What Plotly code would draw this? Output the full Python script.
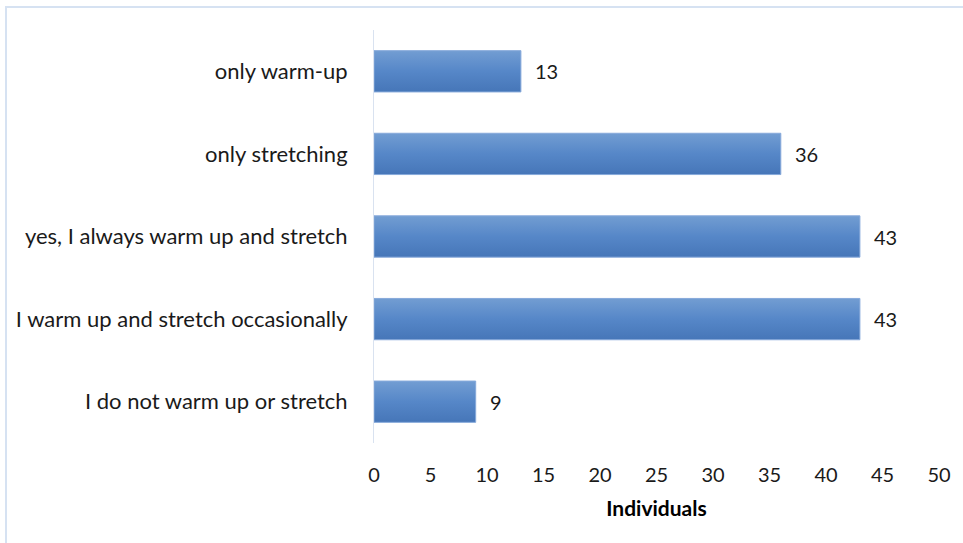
import plotly.graph_objects as go

# Survey responses (bottom to top on the chart)
categories = [
    "I do not warm up or stretch",
    "I warm up and stretch occasionally",
    "yes, I always warm up and stretch",
    "only stretching",
    "only warm-up",
]
counts = [9, 43, 43, 36, 13]
x_ticks = [0, 5, 10, 15, 20, 25, 30, 35, 40, 45, 50]

FONT = "Lato"
TEXT_COLOR = "#1a1a1a"
BAR_TOP = "#729dd2"
BAR_BOTTOM = "#4676b8"
BAR_EDGE = "#86a9da"
HALF = 0.25  # half bar thickness in category units

fig = go.Figure()

# Each bar as a filled rectangle with a vertical gradient
for i, (cat, v) in enumerate(zip(categories, counts)):
    fig.add_trace(go.Scatter(
        x=[0, v, v, 0, 0],
        y=[i - HALF, i - HALF, i + HALF, i + HALF, i - HALF],
        mode="lines",
        fill="toself",
        fillgradient=dict(
            type="vertical",
            colorscale=[[0, BAR_BOTTOM], [0.5, "#5687c8"], [1, BAR_TOP]],
            start=i - HALF,
            stop=i + HALF,
        ),
        line=dict(color=BAR_EDGE, width=1),
        hoverinfo="text",
        hovertext=f"{cat}: {v}",
        showlegend=False,
    ))

# Value labels just past the bar ends
annotations = [
    dict(
        x=v, y=i, xref="x", yref="y",
        text=str(v), showarrow=False,
        xanchor="left", yanchor="middle", xshift=12,
        font=dict(family=FONT, size=20, color=TEXT_COLOR),
    )
    for i, v in enumerate(counts)
]

fig.update_layout(
    width=963,
    height=543,
    margin=dict(l=374, r=24, t=30, b=100),
    paper_bgcolor="white",
    plot_bgcolor="white",
    font=dict(family=FONT, size=20, color=TEXT_COLOR),
    annotations=annotations,
    xaxis=dict(
        range=[0, 50],
        tickvals=x_ticks,
        ticktext=[str(t) for t in x_ticks],
        tickfont=dict(size=20),
        showgrid=False,
        zeroline=False,
        showline=False,
        ticks="",
        ticklabelstandoff=18,
        title=dict(text="<b>Individuals</b>", font=dict(family=FONT, size=21, color="#000000"), standoff=16),
        fixedrange=True,
    ),
    yaxis=dict(
        range=[-0.5, len(categories) - 0.5],
        tickvals=list(range(len(categories))),
        ticktext=categories,
        tickfont=dict(size=22),
        showgrid=False,
        zeroline=False,
        showline=True,
        linecolor="#d9e2f0",
        linewidth=1,
        ticks="",
        ticklabelstandoff=21,
        fixedrange=True,
    ),
    shapes=[
        dict(
            type="rect", xref="paper", yref="paper",
            x0=(6 - 374) / 565, x1=1.2,
            y0=-0.5, y1=(443 - 7) / 413,
            line=dict(color="#d6e2f2", width=2),
            fillcolor="rgba(0,0,0,0)",
            layer="below",
        )
    ],
)

fig.write_html("out.html")
